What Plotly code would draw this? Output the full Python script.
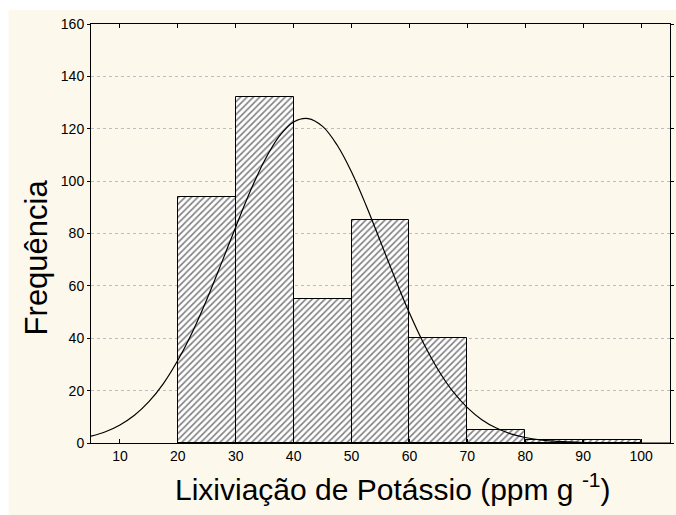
import plotly.graph_objects as go

# Histogram bins (lower edges) and counts
bin_left = [20, 30, 40, 50, 60, 70, 80, 90]
bin_width = 10
counts = [94, 132, 55, 85, 40, 5, 1, 1]

# Fitted normal curve
curve_x = [5, 7.5, 10, 12.5, 15, 17.5, 20, 22.5, 25, 27.5, 30, 32.5, 35, 37.5, 40,
           42.5, 45, 47.5, 50, 52.5, 55, 57.5, 60, 62.5, 65, 67.5, 70, 72.5, 75,
           77.5, 80, 82.5, 85, 87.5, 90, 95, 100, 105]
curve_y = [2.6, 4.3, 6.9, 10.6, 15.8, 22.7, 31.6, 42.3, 54.8, 68.5, 82.5, 96.1, 108.0,
           117.1, 122.6, 123.9, 120.9, 113.8, 103.5, 90.8, 76.9, 62.9, 49.6, 37.8,
           27.8, 19.7, 13.5, 8.9, 5.7, 3.5, 2.1, 1.2, 0.7, 0.4, 0.2, 0.05, 0.0, 0.0]

x_ticks = [10, 20, 30, 40, 50, 60, 70, 80, 90, 100]
y_ticks = [0, 20, 40, 60, 80, 100, 120, 140, 160]

x_title = "Lixiviação de Potássio (ppm g <sup>-1</sup>)"
y_title = "Frequência"

centers = [b + bin_width / 2 for b in bin_left]

fig = go.Figure()
fig.add_trace(go.Bar(
    x=centers, y=counts, width=[bin_width] * len(counts),
    marker=dict(color="white", line=dict(color="black", width=1),
                pattern=dict(shape="/", fgcolor="black", bgcolor="white",
                             size=4.5, solidity=0.35)),
    showlegend=False, hoverinfo="skip",
))
fig.add_trace(go.Scatter(
    x=curve_x, y=curve_y, mode="lines", line=dict(color="black", width=1.2, shape="spline"),
    showlegend=False, hoverinfo="skip",
))

L, R, T, B = 91, 2, 24, 72
W, H = 676, 515
pw, ph = W - L - R, H - T - B

fig.add_shape(type="rect", xref="paper", yref="paper", layer="below",
              x0=(8 - L) / pw, x1=1 + (R + 5) / pw,
              y0=-(B + 5) / ph, y1=1 + (T - 10) / ph,
              fillcolor="#fdf8ec", line=dict(width=0))

fig.add_annotation(text=x_title, xref="paper", yref="paper",
                   x=(395 - L) / pw, y=-(487 - (T + ph)) / ph,
                   xanchor="center", yanchor="middle", showarrow=False,
                   font=dict(size=30))
fig.add_annotation(text=y_title, xref="paper", yref="paper", textangle=-90,
                   x=(36 - L) / pw, y=1 - (257 - T) / ph,
                   xanchor="center", yanchor="middle", showarrow=False,
                   font=dict(size=31))

fig.update_layout(
    width=W, height=H, margin=dict(l=L, r=R, t=T, b=B),
    paper_bgcolor="white", plot_bgcolor="white",
    bargap=0,
    font=dict(family="Liberation Sans, Arial, sans-serif", color="black", size=14),
)
fig.update_xaxes(
    range=[5, 105], tickvals=x_ticks, ticktext=[str(v) for v in x_ticks],
    showgrid=False, zeroline=False,
    showline=True, linecolor="black", linewidth=1, mirror="ticks",
    ticks="inside", ticklen=4, tickcolor="black",
)
fig.update_yaxes(
    range=[0, 160], tickvals=y_ticks, ticktext=[str(v) for v in y_ticks],
    showgrid=True, gridcolor="#bdbdbd", gridwidth=1, griddash="3px,3px",
    zeroline=False,
    showline=True, linecolor="black", linewidth=1, mirror="ticks",
    ticks="outside", ticklen=3, tickcolor="black",
)

fig.write_html("out.html")
